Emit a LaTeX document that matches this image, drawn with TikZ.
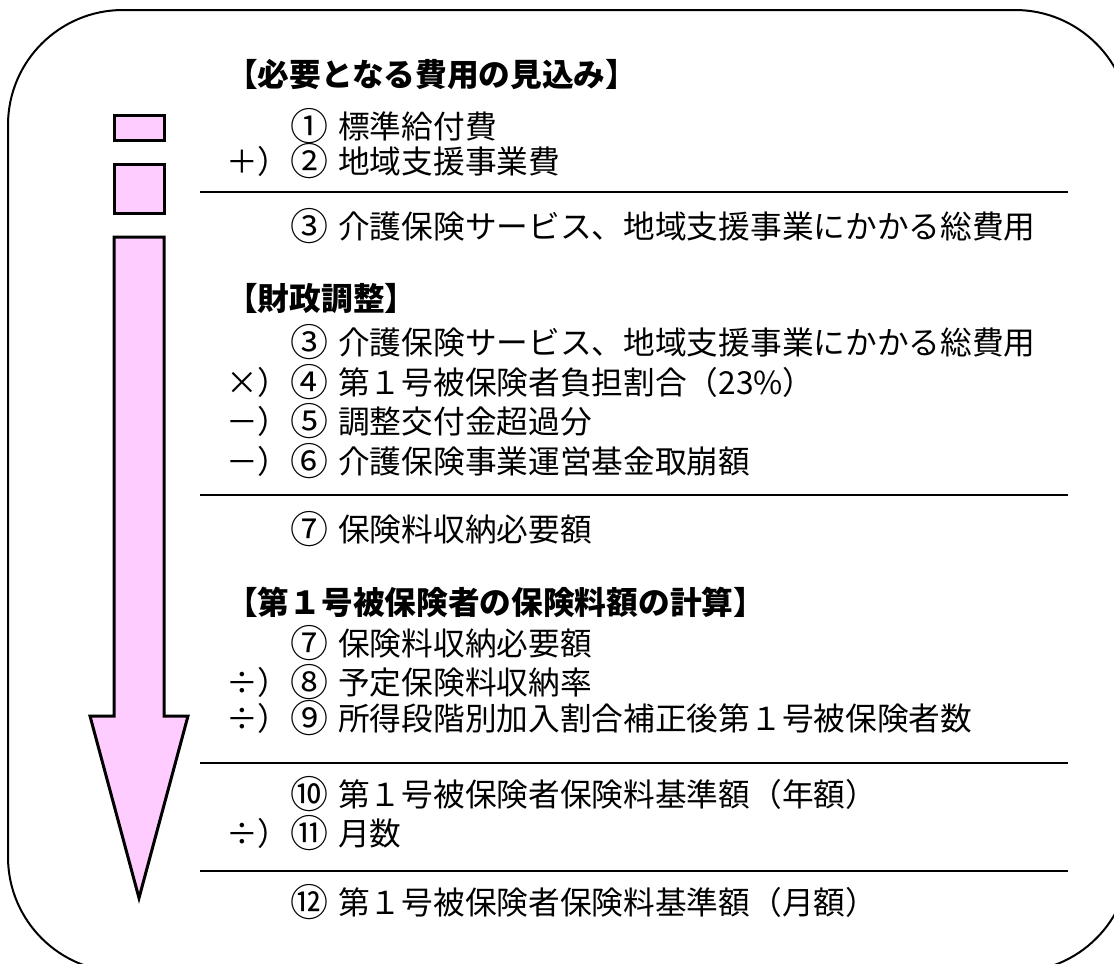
\documentclass[tikz,border=0pt]{standalone}
\usepackage{fontspec}
\newfontfamily\jp{Noto Sans CJK JP}
\definecolor{pinkfill}{HTML}{FFCCFF}
\begin{document}
\begin{tikzpicture}[x=1pt,y=-1pt,
  txt/.style={anchor=base west, inner sep=0pt, font=\jp\fontsize{31.7}{38}\selectfont},
  num/.style={anchor=base west, inner sep=0pt, font=\jp\fontsize{38}{44}\selectfont, yshift=-2pt, xshift=0pt},
  hdr/.style={anchor=base west, inner sep=0pt, font=\jp\bfseries\fontsize{31.7}{38}\selectfont},
  pinkshape/.style={draw=black, fill=pinkfill, line width=3pt, line join=miter},
  rule/.style={draw=black, line width=2pt}]
\useasboundingbox (0,0) rectangle (1114,964);
\clip (0,0) rectangle (1114,964);
\path[draw=black, line width=2pt, rounded corners=115pt] (8,10) rectangle (1130,972);
% left shapes
\path[pinkshape] (114,115) rectangle (164,140);
\path[pinkshape] (114,164) rectangle (164,213);
\path[pinkshape] (114,237) -- (164,237) -- (164,716) -- (188,716) -- (139,898) -- (90,716) -- (114,716) -- cycle;
% rules
\coordinate (r1a) at (200,192); \coordinate (r1b) at (1068,192);
\coordinate (r2a) at (200,495); \coordinate (r2b) at (1068,495);
\coordinate (r3a) at (200,763); \coordinate (r3b) at (1068,763);
\coordinate (r4a) at (200,871); \coordinate (r4b) at (1068,871);
\draw[rule] (r1a) -- (r1b);
\draw[rule] (r2a) -- (r2b);
\draw[rule] (r3a) -- (r3b);
\draw[rule] (r4a) -- (r4b);
% group 1
\node[hdr] (h1) at (226,86) {【必要となる費用の見込み】};
\node[num] (n1) at (290,138) {①};
\node[txt] (t1) at (338,138) {標準給付費};
\node[txt] (o2) at (226,173) {＋）};
\node[num] (n2) at (290,173) {②};
\node[txt] (t2) at (338,173) {地域支援事業費};
\node[num] (n3) at (290,238) {③};
\node[txt] (t3) at (338,238) {介護保険サービス、地域支援事業にかかる総費用};
% group 2
\node[hdr] (h2) at (226,310) {【財政調整】};
\node[num] (n3b) at (290,354) {③};
\node[txt] (t3b) at (338,354) {介護保険サービス、地域支援事業にかかる総費用};
\node[txt] (o4) at (226,394) {×）};
\node[num] (n4) at (290,394) {④};
\node[txt] (t4) at (338,394) {第１号被保険者負担割合（23\%）};
\node[txt] (o5) at (226,433) {－）};
\node[num] (n5) at (290,433) {⑤};
\node[txt] (t5) at (338,433) {調整交付金超過分};
\node[txt] (o6) at (226,473) {－）};
\node[num] (n6) at (290,473) {⑥};
\node[txt] (t6) at (338,473) {介護保険事業運営基金取崩額};
\node[num] (n7) at (290,541) {⑦};
\node[txt] (t7) at (338,541) {保険料収納必要額};
% group 3
\node[hdr] (h3) at (226,614) {【第１号被保険者の保険料額の計算】};
\node[num] (n7b) at (290,655) {⑦};
\node[txt] (t7b) at (338,655) {保険料収納必要額};
\node[txt] (o8) at (226,694) {÷）};
\node[num] (n8) at (290,694) {⑧};
\node[txt] (t8) at (338,694) {予定保険料収納率};
\node[txt] (o9) at (226,730) {÷）};
\node[num] (n9) at (290,730) {⑨};
\node[txt] (t9) at (338,730) {所得段階別加入割合補正後第１号被保険者数};
\node[num] (n10) at (290,806) {⑩};
\node[txt] (t10) at (338,806) {第１号被保険者保険料基準額（年額）};
\node[txt] (o11) at (226,845) {÷）};
\node[num] (n11) at (290,845) {⑪};
\node[txt] (t11) at (338,845) {月数};
\node[num] (n12) at (290,914) {⑫};
\node[txt] (t12) at (338,914) {第１号被保険者保険料基準額（月額）};
\end{tikzpicture}
\end{document}
